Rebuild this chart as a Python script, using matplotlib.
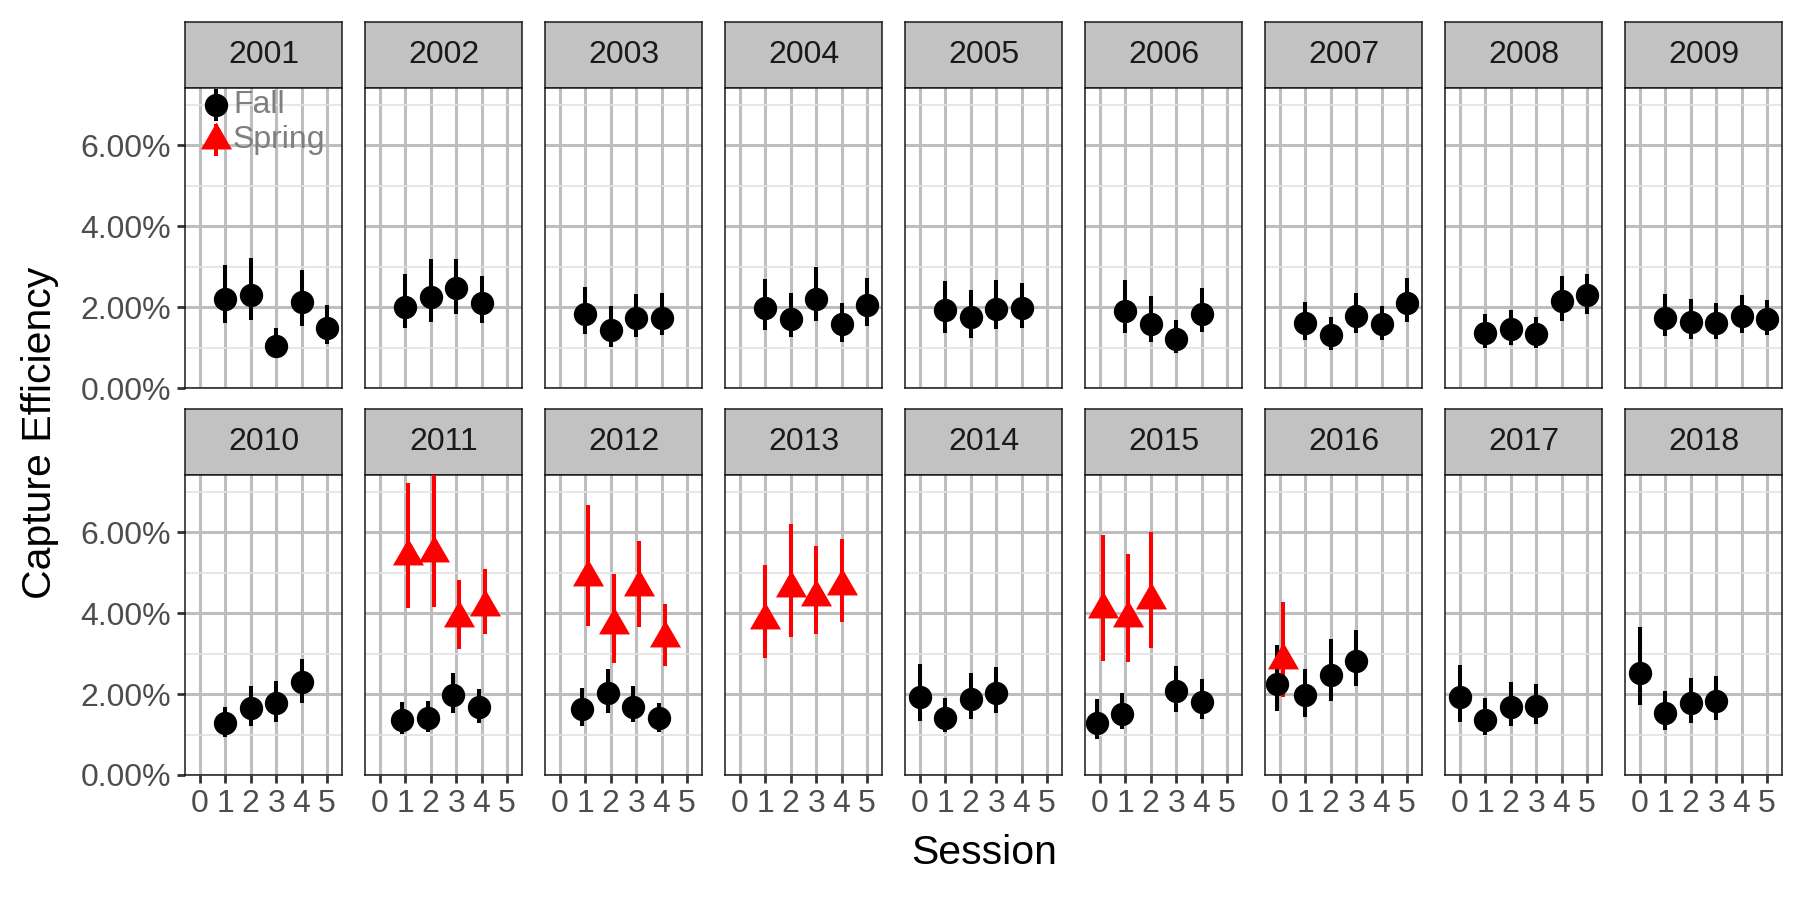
import numpy as np
import matplotlib
matplotlib.use("Agg")
import matplotlib.pyplot as plt
from matplotlib.ticker import FixedLocator, FormatStrFormatter

plt.rcParams['font.family'] = ['Liberation Sans', 'DejaVu Sans']

# capture efficiency in percent
years = list(range(2001, 2019))
sessions_ticks = [0, 1, 2, 3, 4, 5]

fall_sessions = {
    2001: [1, 2, 3, 4, 5], 2002: [1, 2, 3, 4], 2003: [1, 2, 3, 4],
    2004: [1, 2, 3, 4, 5], 2005: [1, 2, 3, 4], 2006: [1, 2, 3, 4],
    2007: [1, 2, 3, 4, 5], 2008: [1, 2, 3, 4, 5], 2009: [1, 2, 3, 4, 5],
    2010: [1, 2, 3, 4], 2011: [1, 2, 3, 4], 2012: [1, 2, 3, 4],
    2013: [], 2014: [0, 1, 2, 3], 2015: [0, 1, 3, 4],
    2016: [0, 1, 2, 3], 2017: [0, 1, 2, 3], 2018: [0, 1, 2, 3],
}
fall_est = {
    2001: [2.21, 2.29, 1.04, 2.12, 1.47], 2002: [2.00, 2.26, 2.46, 2.11],
    2003: [1.82, 1.43, 1.72, 1.74], 2004: [1.97, 1.70, 2.21, 1.57, 2.05],
    2005: [1.92, 1.75, 1.96, 1.98], 2006: [1.90, 1.59, 1.22, 1.84],
    2007: [1.60, 1.30, 1.79, 1.57, 2.11], 2008: [1.37, 1.45, 1.33, 2.15, 2.29],
    2009: [1.74, 1.63, 1.61, 1.78, 1.70], 2010: [1.28, 1.65, 1.79, 2.29],
    2011: [1.36, 1.40, 1.98, 1.67], 2012: [1.62, 2.02, 1.69, 1.42],
    2013: [], 2014: [1.93, 1.42, 1.87, 2.03], 2015: [1.29, 1.51, 2.07, 1.81],
    2016: [2.26, 1.98, 2.48, 2.81], 2017: [1.93, 1.37, 1.69, 1.70],
    2018: [2.53, 1.54, 1.77, 1.84],
}
fall_low = {
    2001: [1.61, 1.67, 0.73, 1.53, 1.08], 2002: [1.47, 1.64, 1.84, 1.60],
    2003: [1.33, 1.02, 1.26, 1.30], 2004: [1.43, 1.26, 1.65, 1.14, 1.53],
    2005: [1.37, 1.23, 1.45, 1.49], 2006: [1.35, 1.14, 0.86, 1.38],
    2007: [1.19, 0.94, 1.36, 1.18, 1.63], 2008: [1.00, 1.05, 1.00, 1.65, 1.82],
    2009: [1.28, 1.22, 1.22, 1.35, 1.31], 2010: [0.95, 1.20, 1.32, 1.77],
    2011: [1.01, 1.07, 1.53, 1.29], 2012: [1.21, 1.52, 1.30, 1.07],
    2013: [], 2014: [1.34, 1.05, 1.39, 1.52], 2015: [0.88, 1.13, 1.56, 1.38],
    2016: [1.58, 1.44, 1.84, 2.21], 2017: [1.32, 1.00, 1.22, 1.26],
    2018: [1.73, 1.11, 1.29, 1.37],
}
fall_high = {
    2001: [3.04, 3.20, 1.47, 2.91, 2.04], 2002: [2.81, 3.18, 3.18, 2.76],
    2003: [2.49, 2.02, 2.31, 2.34], 2004: [2.68, 2.35, 3.00, 2.09, 2.72],
    2005: [2.64, 2.41, 2.66, 2.59], 2006: [2.66, 2.28, 1.68, 2.46],
    2007: [2.12, 1.75, 2.35, 2.02, 2.72], 2008: [1.84, 1.93, 1.76, 2.77, 2.81],
    2009: [2.31, 2.21, 2.11, 2.29, 2.17], 2010: [1.69, 2.21, 2.31, 2.87],
    2011: [1.81, 1.83, 2.51, 2.12], 2012: [2.14, 2.63, 2.20, 1.79],
    2013: [], 2014: [2.73, 1.91, 2.51, 2.66], 2015: [1.88, 2.02, 2.69, 2.36],
    2016: [3.21, 2.63, 3.36, 3.58], 2017: [2.72, 1.89, 2.30, 2.26],
    2018: [3.65, 2.07, 2.40, 2.44],
}

spring_sessions = {2011: [1, 2, 3, 4], 2012: [1, 2, 3, 4], 2013: [1, 2, 3, 4],
                   2015: [0, 1, 2], 2016: [0]}
spring_est = {2011: [5.42, 5.49, 3.87, 4.15], 2012: [4.90, 3.71, 4.64, 3.38],
              2013: [3.83, 4.61, 4.40, 4.67], 2015: [4.10, 3.89, 4.33], 2016: [2.83]}
spring_low = {2011: [4.12, 4.15, 3.11, 3.48], 2012: [3.68, 2.77, 3.65, 2.69],
              2013: [2.88, 3.42, 3.48, 3.78], 2015: [2.82, 2.80, 3.14], 2016: [1.92]}
spring_high = {2011: [7.21, 7.60, 4.81, 5.09], 2012: [6.67, 4.96, 5.78, 4.22],
               2013: [5.18, 6.21, 5.66, 5.84], 2015: [5.94, 5.47, 6.00], 2016: [4.28]}

W, H = 1800, 900
DODGE = 0.12
STRIP_GREY = '#C2C2C2'
GRID_MAJOR = '#BEBEBE'
GRID_MINOR = '#E3E3E3'
TEXT_GREY = '#4D4D4D'


def px_box(x0, y0, x1, y1):
    return [x0 / W, 1 - y1 / H, (x1 - x0) / W, (y1 - y0) / H]


fig = plt.figure(figsize=(18, 9), dpi=100)

row_strip = [(22, 88), (409, 475)]
row_bottom = [388, 775]

for i, yr in enumerate(years):
    r, c = divmod(i, 9)
    x0 = 185 + c * 180
    x1 = x0 + 157
    st, sb = row_strip[r]

    # strip
    sax = fig.add_axes(px_box(x0, st, x1, sb))
    sax.set_facecolor(STRIP_GREY)
    sax.set_xticks([])
    sax.set_yticks([])
    for sp in sax.spines.values():
        sp.set_linewidth(1.1)
        sp.set_color('#1A1A1A')
    sax.text(0.5, 0.5, str(yr), ha='center', va='center', fontsize=23,
             color='#1A1A1A', transform=sax.transAxes)

    ax = fig.add_axes(px_box(x0, sb, x1, row_bottom[r]))
    ax.set_xlim(-0.59, 5.59)
    ax.set_ylim(0, 7.41)
    ax.set_axisbelow(True)
    ax.xaxis.set_major_locator(FixedLocator(sessions_ticks))
    ax.yaxis.set_major_locator(FixedLocator([0, 2, 4, 6]))
    ax.yaxis.set_minor_locator(FixedLocator([1, 3, 5, 7]))
    ax.yaxis.set_major_formatter(FormatStrFormatter('%.2f%%'))
    ax.grid(True, which='major', color=GRID_MAJOR, linewidth=2.2)
    ax.grid(True, which='minor', axis='y', color=GRID_MINOR, linewidth=1.2)
    for sp in ax.spines.values():
        sp.set_linewidth(1.1)
        sp.set_color('#1A1A1A')
    ax.tick_params(axis='both', which='major', length=6, width=2,
                   color='#333333', labelcolor=TEXT_GREY, labelsize=23, pad=4)
    ax.tick_params(axis='y', which='minor', length=0)
    if c != 0:
        ax.tick_params(axis='y', which='major', length=0, labelleft=False)
    if r == 0:
        ax.tick_params(axis='x', length=0, labelbottom=False)

    f_s = fall_sessions[yr]
    s_s = spring_sessions.get(yr, [])
    shared = set(f_s) & set(s_s)

    fx = [s - DODGE if s in shared else s for s in f_s]
    if f_s:
        ax.vlines(fx, fall_low[yr], fall_high[yr], color='black', linewidth=2.9, zorder=3)
        ax.plot(fx, fall_est[yr], 'o', color='black', markersize=16.8,
                markeredgewidth=0, zorder=4)
    if s_s:
        sx = [s + DODGE if s in shared else s for s in s_s]
        ax.vlines(sx, spring_low[yr], spring_high[yr], color='red', linewidth=2.9, zorder=3)
        ax.plot(sx, spring_est[yr], marker=(3, 0, 0), linestyle='none', color='red',
                markersize=25.8, markeredgewidth=0, zorder=4)

    if i == 0:
        # legend drawn inside the first panel
        for ky, lab, col, mk, ms in [(0.943, 'Fall', 'black', 'o', 16.8),
                                     (0.827, 'Spring', 'red', (3, 0, 0), 25.8)]:
            ax.plot([0.197, 0.197], [ky - 0.047, ky + 0.047], color=col,
                    linewidth=2.9, transform=ax.transAxes, clip_on=False, zorder=5)
            ax.plot([0.197], [ky], marker=mk, color=col, markersize=ms,
                    markeredgewidth=0, transform=ax.transAxes, clip_on=False, zorder=6)
            ax.text(0.305, ky, lab, ha='left', va='center', fontsize=23,
                    color='#7F7F7F', transform=ax.transAxes)

fig.text(40 / W, 1 - 433 / H, 'Capture Efficiency', rotation=90, ha='center',
         va='center', fontsize=29.5, color='black')
fig.text(984 / W, 1 - 853 / H, 'Session', ha='center', va='center',
         fontsize=29.5, color='black')

fig.savefig('out.png', dpi=100)
